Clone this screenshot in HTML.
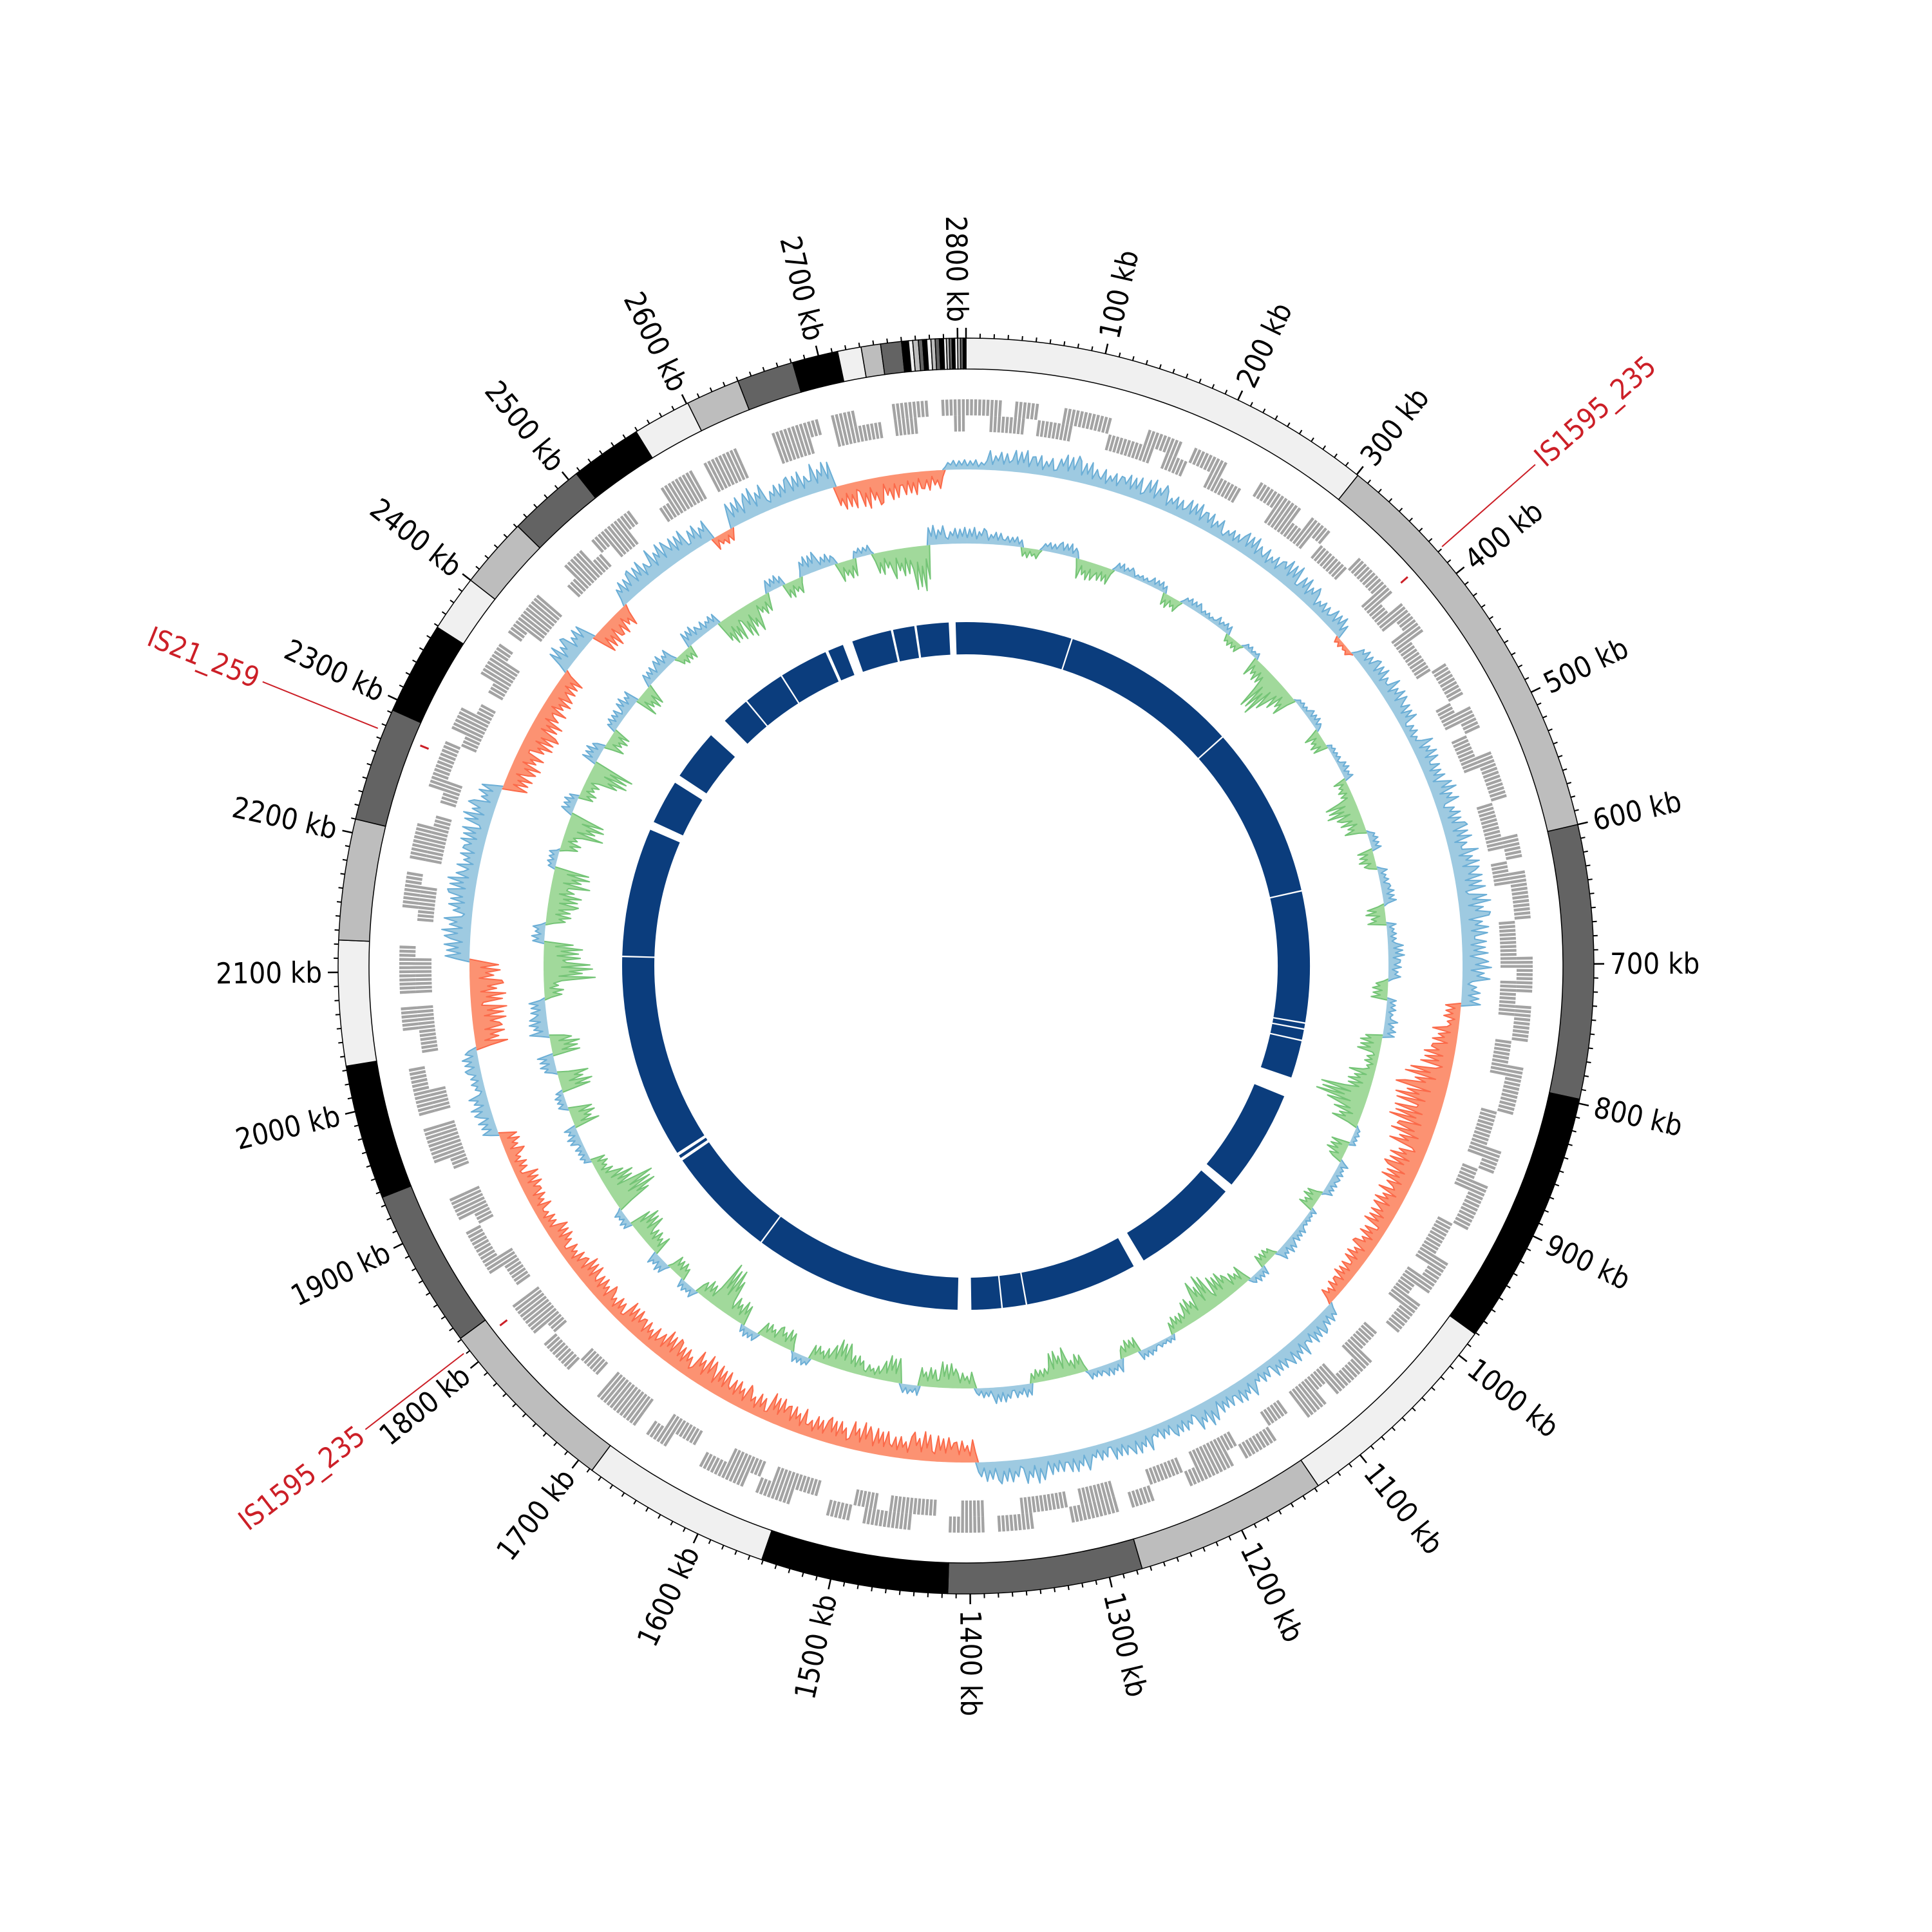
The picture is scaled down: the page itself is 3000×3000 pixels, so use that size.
<!DOCTYPE html>
<html><head><meta charset="utf-8">
<style>
html,body{margin:0;padding:0;background:#fff;}
svg{display:block;}
text{font-family:"DejaVu Sans Condensed","DejaVu Sans","Liberation Sans",sans-serif;font-stretch:condensed;}
</style></head>
<body>
<svg id="chart" width="3000" height="3000" viewBox="0 0 3000 3000" xmlns="http://www.w3.org/2000/svg">
<rect width="3000" height="3000" fill="#fff"/>
<g id="g-contigs"></g>
<g id="g-ticks"></g>
<g id="g-genes"></g>
<g id="g-skew"></g>
<g id="g-gc"></g>
<g id="g-blue"></g>
<g id="g-is"></g>
</svg>
<script>
// ---- data ----
const genomeKb = 2806;
const contigBounds = [0,301,600,797,981,1137,1276,1416,1551,1688,1821,1936,2033,2123,2210,2292,2359,2400,2451,2507,2559,2601,2640,2681,2714,2731,2745,2760,2765,2768,2772,2775,2778,2781,2784,2787,2790,2792,2794,2796,2798,2800,2802,2804,2806];
const contigShades = ["#f0f0f0","#bdbdbd","#636363","#000000"];
const tickLabelsKb = [100,200,300,400,500,600,700,800,900,1000,1100,1200,1300,1400,1500,1600,1700,1800,1900,2000,2100,2200,2300,2400,2500,2600,2700,2800];
const isNames = ["IS1595_235","IS21_259","IS1595_235"];
const isPositionsKb = [379,2276,1811];
const genePlus  = "11101100111100011101110001111011000111101110001110110011110001101111000111011100111100011011110001110111000111101100011101111000110111100011101110001111011000111011110001101111000111011100011110110001110111100011011110001110111000111101100011101111000110111100011101110001111011000111011";
const geneMinus = "00111011100011110110011100011110111000111011110001101110001111011000111101110011100011110110001111011100011100111101100011110111000111011110001100111101100011110111000111001111011000111101110001110011110110001111011100011100111101100011110111000111001111011000111101110001110011110110001";
const skewValues = [0.3,0.6,0.7,0.6,0.8,0.7,0.6,0.7,0.8,0.6,0.7,0.6,0.5,0.7,0.6,0.8,0.7,0.5,0.6,-0.2,0.5,0.6,0.7,0.6,0.4,0.7,0.6,0.8,0.7,0.8,0.9,0.9,1.0,0.9,0.8,0.9,0.6,
 -0.5,-0.8,-1.0,-1.4,-1.6,-1.5,-1.3,-1.1,-1.0,-0.9,-0.8,-0.7,-0.7,-0.6,-0.5,
 0.5,0.6,0.7,0.6,0.5,0.7,0.6,0.8,0.6,0.5,0.7,0.6,0.5,0.7,0.6,0.8,0.7,0.6,
 -0.7,-0.8,-0.9,-0.7,-0.8,-0.9,-0.8,-0.7,-0.8,-0.9,-0.7,-0.8,-0.9,-1.0,-0.8,-0.9,-0.7,-0.8,-0.6,-0.7,-0.8,-0.6,-0.7,-0.5,-0.6,-0.7,-0.5,-0.6,
 0.5,0.6,0.4,0.5,
 -1.0,-1.1,-1.1,-1.0,
 0.8,0.9,0.8,0.9,0.7,0.8,0.9,0.7,
 -0.8,-0.9,-1.0,-0.9,-0.8,-0.7,
 0.8,0.7,
 -0.8,-0.7,
 0.7,0.8,0.9,0.8,0.7,-0.4,0.8,0.9,0.7,0.8,0.9,
 -0.8,-0.9,-0.8,-0.7,-0.6,
 0.3];
const gcValues = [0.5,0.4,0.3,-0.3,0.3,0.4,-0.6,-0.5,0.3,0.2,
 0.3,-0.4,0.3,0.2,0.3,-0.3,0.2,-0.6,-1.4,-0.8,
 0.2,0.3,-0.5,0.2,0.3,-0.4,-1.0,-0.7,0.3,-0.5,
 0.3,0.4,-0.6,0.3,0.5,0.4,-0.5,0.3,0.4,-0.7,
 -0.4,-0.8,-1.6,-0.9,0.2,-0.6,0.3,0.3,-0.5,0.2,
 0.3,0.4,-0.4,0.3,-0.6,-0.9,-1.2,-0.8,-0.5,0.2,
 0.3,-0.5,0.4,0.3,-0.6,-0.9,-0.4,0.4,0.5,0.3,
 -0.5,-0.8,-0.6,0.3,-0.8,-0.4,-0.6,-0.9,-0.5,0.3,
 -0.6,-0.5,0.3,-0.7,-1.5,-0.6,0.3,-0.5,0.4,-0.6,
 -0.9,0.3,-1.5,-1.0,-0.5,0.3,0.4,-0.8,0.3,-1.0,
 0.5,-0.9,0.6,0.5,-0.6,-1.6,-1.2,0.4,-0.8,-1.0,
 -1.2,0.3,-0.6,-1.2,0.4,-0.5,-1.3,0.5,-0.6,0.4,
 0.5,-0.7,0.4,0.5,-0.4,0.5,0.4,-0.9,-1.0,-0.6,
 0.4,-0.5,0.6,0.4,-0.6,0.3,-0.7,-0.9,-1.4,0.6,0.5];
const assemblyGapCentersKb = [2788,2709,2740,2649,2620,2446,2361,2292,2497,2553,2117,1405,1356,1324,1168,1015,862,799,784,776,140,376,603,1838,1846,1688];
const assemblyGapWidthsKb = [9,3,3,13,4,26,11,11,2,2,2,18,2,2,15,12,26,2,2,2,2,2,2,4,4,2];

// ---- geometry ----
const NS = "http://www.w3.org/2000/svg";
const CX = 1500, CY = 1500;
const SPIKE_SHAPE = [0.35,0.9,0.45,1.0,0.3,0.75,0.5,0.95]; // rendering texture within a bin
function ang(kb){ return kb / genomeKb * 2 * Math.PI; }
function pt(kb, r){ const a = ang(kb); return [CX + r*Math.sin(a), CY - r*Math.cos(a)]; }
function sector(k0, k1, r0, r1){
  const p0 = pt(k0,r1), p1 = pt(k1,r1), p2 = pt(k1,r0), p3 = pt(k0,r0);
  const large = (k1-k0)/genomeKb > 0.5 ? 1 : 0;
  return `M${p0[0]},${p0[1]} A${r1},${r1} 0 ${large} 1 ${p1[0]},${p1[1]} L${p2[0]},${p2[1]} A${r0},${r0} 0 ${large} 0 ${p3[0]},${p3[1]} Z`;
}
function mk(tag, attrs, parent){ const e = document.createElementNS(NS, tag); for (const k in attrs) e.setAttribute(k, attrs[k]); parent.appendChild(e); return e; }

// ---- outer contig ring ----
const gC = document.getElementById('g-contigs');
for (let i = 0; i < contigBounds.length-1; i++){
  const p = mk('path', {d: sector(contigBounds[i], contigBounds[i+1], 927, 975), fill: contigShades[i%4], stroke: '#000', 'stroke-width': 1.5}, gC);
  
  
}

// ---- ticks & labels ----
const gT = document.getElementById('g-ticks');
for (let k = 0; k <= 280; k++){
  const kb = k*10; if (kb > genomeKb) break;
  const major = k % 10 === 0;
  const a = pt(kb, 975), b = pt(kb, major ? 991 : 982);
  const l = mk('line', {x1:a[0], y1:a[1], x2:b[0], y2:b[1], stroke:'#000', 'stroke-width': major ? 2.5 : 2}, gT);
  
  
}
function radialText(kb, r, txt, color, size, parent, name){
  const deg = kb / genomeKb * 360;
  const p = pt(kb, r);
  const right = deg < 180;
  const rot = right ? deg - 90 : deg + 90;
  const t = mk('text', {x:p[0], y:p[1], 'font-size':size, fill:color, 'text-anchor': right ? 'start' : 'end', 'dominant-baseline':'central', transform:`rotate(${rot} ${p[0]} ${p[1]})`}, parent);
  t.textContent = txt;
  
  
}
tickLabelsKb.forEach(kb => radialText(kb, 1000, kb + ' kb', '#000', 45, gT, 'tick-label'));

// ---- gene track ----
const gG = document.getElementById('g-genes');
function geneRow(str, r0, r1, name){
  const n = str.length, w = genomeKb / n;
  for (let i = 0; i < n; i++){
    if (str[i] !== '1') continue;
    const sub = 3;
    for (let s = 0; s < sub; s++){
      const k0 = i*w + s*w/sub, k1 = k0 + w/sub*0.7;
      const p = mk('path', {d: sector(k0, k1, r0, r1), fill:'#a3a3a3'}, gG);
      
      
    }
  }
}
geneRow(genePlus, 855, 880, 'gene-forward');
geneRow(geneMinus, 830, 855, 'gene-reverse');

// ---- area tracks ----
function areaTrack(vals, base, unit, posFill, posLine, negFill, negLine, parent, nameP, nameN){
  const n = vals.length, w = genomeKb / n, m = SPIKE_SHAPE.length;
  [[1, posFill, posLine, nameP], [-1, negFill, negLine, nameN]].forEach(([sgn, fill, line, nm]) => {
    const pts = [], vs = [];
    for (let i = 0; i < n; i++){
      const v = sgn > 0 ? Math.max(vals[i], 0) : Math.min(vals[i], 0);
      for (let j = 0; j < m; j++){
        const f = SPIKE_SHAPE[(j + i*3) % m];
        const kb = i*w + (j + 0.5) * w / m;
        vs.push(v);
        pts.push(pt(kb, base + v*f*unit));
      }
    }
    let d = 'M' + pts.map(p => p[0].toFixed(1) + ',' + p[1].toFixed(1)).join(' L') + ` L${pts[0][0]},${pts[0][1]}`;
    const N = pts.length, dk = genomeKb / N;
    for (let k = N; k >= 0; k--){
      const b = pt((k + 0.5) * dk, base);
      d += ` L${b[0].toFixed(1)},${b[1].toFixed(1)}`;
    }
    d += ' Z';
    const p = mk('path', {d: d, fill: fill, stroke: 'none'}, parent);
    
    
    let ld = '', pen = false;
    for (let k = 0; k < N; k++){
      const k2 = (k+1) % N;
      if (vs[k] === 0 && vs[k2] === 0){ pen = false; continue; }
      if (!pen){ ld += ` M${pts[k][0].toFixed(1)},${pts[k][1].toFixed(1)}`; pen = true; }
      ld += ` L${pts[k2][0].toFixed(1)},${pts[k2][1].toFixed(1)}`;
    }
    const l = mk('path', {d: ld, fill: 'none', stroke: line, 'stroke-width': 2, 'stroke-linejoin':'round'}, parent);
    
    
  });
}
areaTrack(skewValues, 771, 50, '#9ecae1', '#6baed6', '#fc9272', '#fb6a4a', document.getElementById('g-skew'), 'gc-skew-positive', 'gc-skew-negative');
areaTrack(gcValues, 656, 50, '#9ecae1', '#6baed6', '#a1d99b', '#74c476', document.getElementById('g-gc'), 'gc-content-above', 'gc-content-below');

// ---- assembly ring ----
const gB = document.getElementById('g-blue');
const gaps = assemblyGapCentersKb.map((c,i) => [c - assemblyGapWidthsKb[i]/2, c + assemblyGapWidthsKb[i]/2]).sort((a,b)=>a[0]-b[0]);
let cur = 0;
gaps.forEach(g => {
  if (g[0] > cur){
    const p = mk('path', {d: sector(cur, g[0], 484, 534), fill:'#0b3d7d'}, gB);
    
    
  }
  cur = Math.max(cur, g[1]);
});
if (cur < genomeKb){
  const p = mk('path', {d: sector(cur, genomeKb, 484, 534), fill:'#0b3d7d'}, gB);
  
  
}

// ---- IS elements ----
const gI = document.getElementById('g-is');
isPositionsKb.forEach((kb, i) => {
  const a = pt(kb, 985), b = pt(kb, 1178);
  const l = mk('line', {x1:a[0], y1:a[1], x2:b[0], y2:b[1], stroke:'#cc1f27', 'stroke-width':2}, gI);
  
  
  const m0 = pt(kb, 900), m1 = pt(kb, 914);
  const m = mk('line', {x1:m0[0], y1:m0[1], x2:m1[0], y2:m1[1], stroke:'#cc1f27', 'stroke-width':3}, gI);
  
  
  radialText(kb, 1186, isNames[i], '#cc1f27', 44, gI, 'is-element-label');
});
</script>
</body></html>
